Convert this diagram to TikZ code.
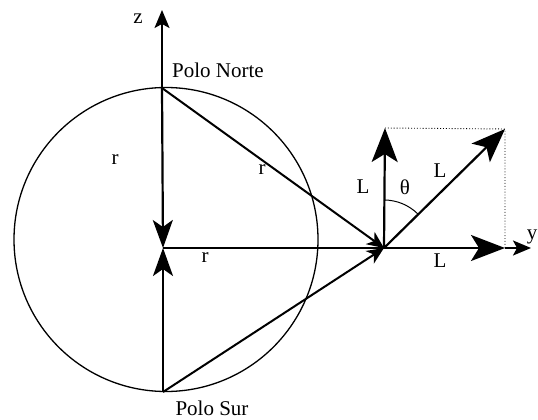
\documentclass[tikz,border=0pt]{standalone}
\usepackage{fontspec}
\setmainfont{Liberation Serif}
\usetikzlibrary{arrows.meta,calc}
\begin{document}
\begin{tikzpicture}[x=1pt,y=-1pt,
  lbl/.style={inner sep=0pt,font=\fontsize{21}{25}\selectfont},
  big/.style={line width=2.2pt,-{Stealth[length=34pt,width=26pt,inset=8pt]}},
  mid/.style={line width=2.2pt,-{Stealth[length=28pt,width=20pt,inset=7pt]}},
  small/.style={line width=2pt,-{Stealth[length=17pt,width=15pt,inset=5pt]}},
  axis/.style={line width=1.8pt,-{Stealth[length=18pt,width=15pt,inset=4pt]}},
  thin/.style={line width=0.9pt}]
\useasboundingbox (0,0) rectangle (538,420);
\coordinate (C) at (166,239.5);
\coordinate (N) at (162,88);
\coordinate (S) at (163,392);
\coordinate (O) at (163,248);
\coordinate (P) at (384,248);
\coordinate (Z) at (162,10);
\coordinate (V) at (385,128);
\coordinate (D) at (505,129);
\coordinate (H) at (505,248);
\coordinate (Y) at (531,248);
\draw[line width=1.3pt] (C) circle (152pt);
\draw[axis] (N) -- (Z);
\draw[mid] (N) -- (O);
\draw[mid] (S) -- (O);
\draw[line width=2.2pt] (O) -- (P);
\draw[small] (N) -- (P);
\draw[small] (S) -- (P);
\draw[thin,dotted] (V) -- (D) -- (H);
\draw[axis] (H) -- (Y);
\draw[big] (P) -- (V);
\draw[big] (P) -- (D);
\draw[big] (P) -- (H);
\draw[line width=1pt] ($(P)+(0pt,48pt)$) arc[start angle=90,end angle=45,radius=48pt];
\node[lbl] (lz) at (138,19) {z};
\node[lbl] (lpn) at (218,70) {Polo Norte};
\node[lbl] (lr1) at (115,160) {r};
\node[lbl] (lr2) at (262,170) {r};
\node[lbl] (lr3) at (205,258) {r};
\node[lbl] (lps) at (212,408) {Polo Sur};
\node[lbl] (lL1) at (363,187) {L};
\node[lbl] (lth) at (405,187) {θ};
\node[lbl] (lL2) at (440,171) {L};
\node[lbl] (lL3) at (440,261) {L};
\node[lbl] (ly) at (532,237) {y};
\end{tikzpicture}
\end{document}
